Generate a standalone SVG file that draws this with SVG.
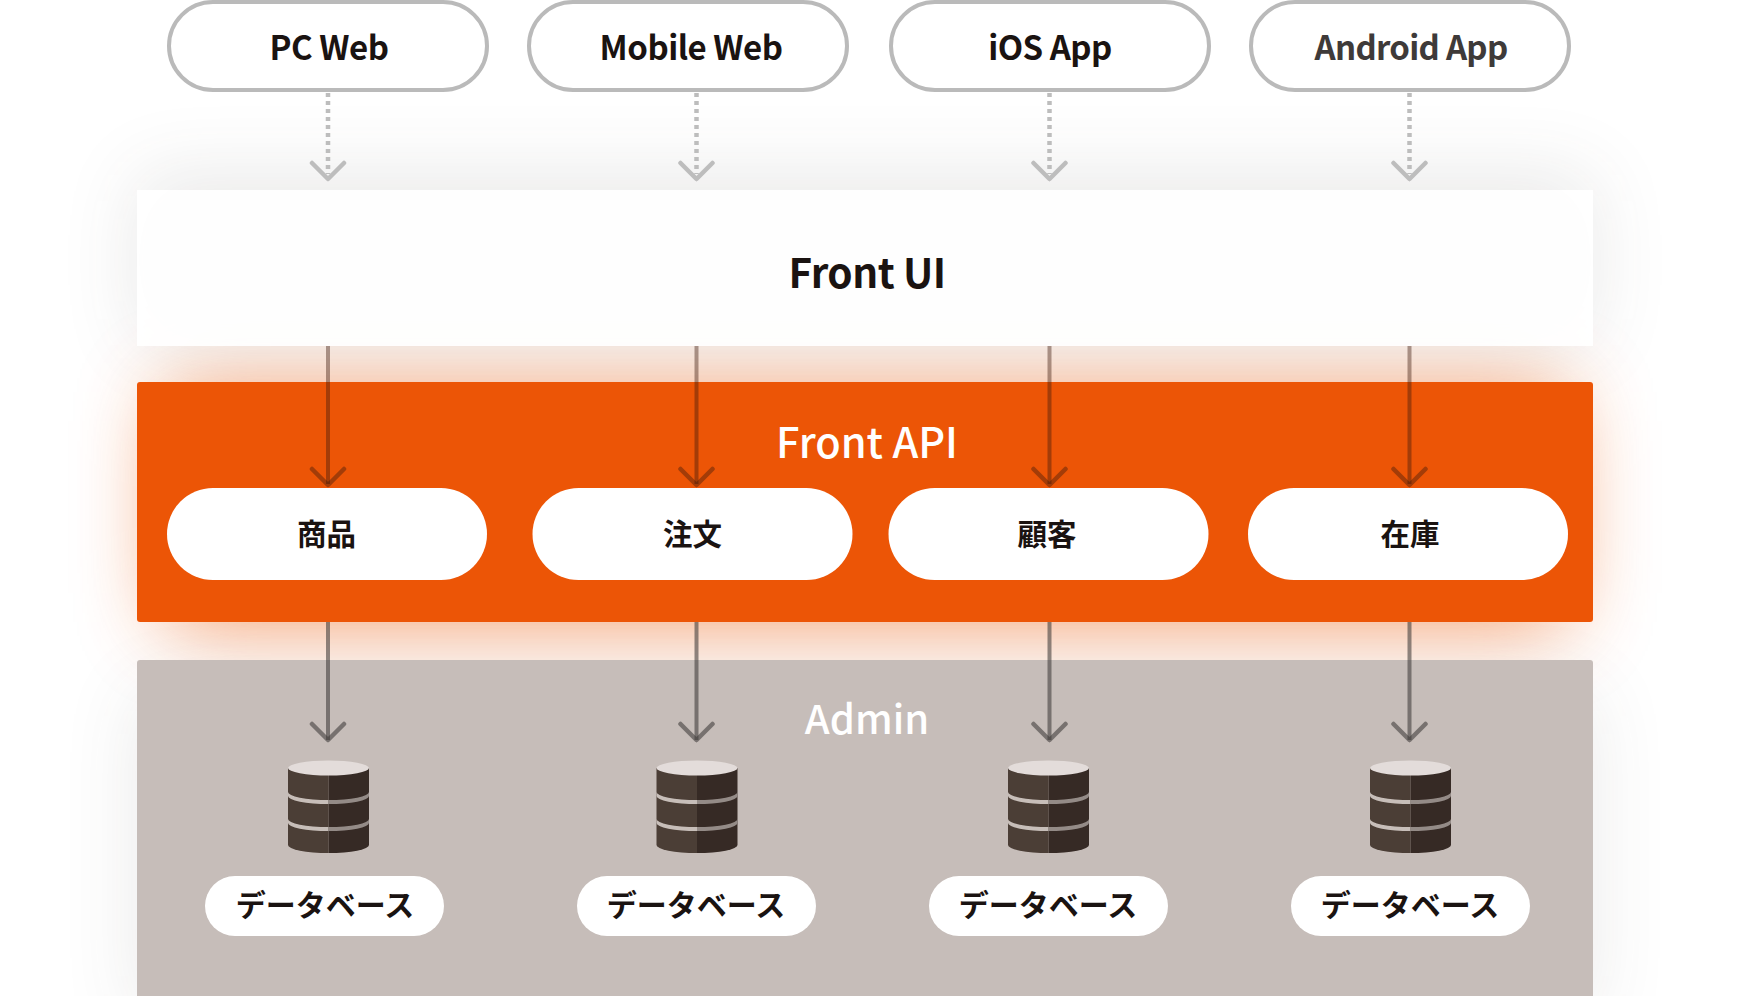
<svg xmlns="http://www.w3.org/2000/svg" xmlns:xlink="http://www.w3.org/1999/xlink" width="1754" height="996" viewBox="0 0 1754 996">
<style>
text{font-family:"Noto Sans CJK JP","Noto Sans",sans-serif;text-anchor:middle;fill:#1a1311;font-weight:500}
.top{fill:#fff;stroke:#bababa;stroke-width:4}
.pill{fill:#fff}
.t30{font-size:33px;font-weight:700;letter-spacing:-.5px}
.t27{font-size:29.500px;font-weight:700}
.tb{font-size:30px;font-weight:700}
.big{font-size:41.500px}
.dot{fill:none;stroke:#bdbdbd;stroke-width:4.500;stroke-dasharray:4 4}
.head{fill:none;stroke:#bdbdbd;stroke-width:4.500;stroke-linecap:round;stroke-linejoin:round}
.ln{fill:none;stroke:#3e1a0c;stroke-opacity:.42;stroke-width:4}
.hd{fill:none;stroke:#3e1a0c;stroke-opacity:.42;stroke-width:4.500;stroke-linecap:round;stroke-linejoin:round}
.ln2{fill:none;stroke:#3e3a39;stroke-opacity:.58;stroke-width:4}
.hd2{fill:none;stroke:#3e3a39;stroke-opacity:.58;stroke-width:4.500;stroke-linecap:round;stroke-linejoin:round}
</style>
<defs>
<filter id="b1" x="-20%" y="-80%" width="140%" height="260%"><feGaussianBlur stdDeviation="40"/></filter>
<filter id="b2" x="-20%" y="-80%" width="140%" height="260%"><feGaussianBlur stdDeviation="44"/></filter>
<g id="db">
<path d="M-40.500 -39V38A40.500 8 0 0 0 0 46V-39Z" fill="#4b3e36"/>
<path d="M0 -39V46A40.500 8 0 0 0 40.500 38V-39Z" fill="#362a25"/>
<path d="M-40.500 -15A40.500 8 0 0 0 0 -7V-3A40.500 8 0 0 1 -40.500 -11Z" fill="#c7beb9"/>
<path d="M0 -7A40.500 8 0 0 0 40.500 -15V-11A40.500 8 0 0 1 0 -3Z" fill="#948b87"/>
<path d="M-40.500 12A40.500 8 0 0 0 0 20V24A40.500 8 0 0 1 -40.500 16Z" fill="#c7beb9"/>
<path d="M0 20A40.500 8 0 0 0 40.500 12V16A40.500 8 0 0 1 0 24Z" fill="#948b87"/>
<ellipse cx="0" cy="-39" rx="40.500" ry="7.500" fill="#e3dcda"/>
</g>
</defs>
<rect width="1754" height="996" fill="#fff"/>
<g id="glows">
<rect x="137" y="175" width="1456" height="170" fill="#3e3a39" opacity=".11" filter="url(#b1)"/>
<rect x="165" y="392" width="1400" height="230" fill="#ec5506" opacity=".62" filter="url(#b2)"/>
<rect x="137" y="690" width="1456" height="330" fill="#3e3a39" opacity=".1" filter="url(#b1)"/>
</g>
<g id="front-ui"><rect x="137" y="190" width="1456" height="156" fill="#fff" fill-opacity=".92"/><text class="big" x="867" y="288" style="font-weight:700;font-size:40.500px;letter-spacing:-.5px">Front UI</text></g>
<g id="front-api"><rect x="137" y="382" width="1456" height="240" rx="3" fill="#ec5506"/><text class="big" x="867" y="458" style="fill:#fff">Front API</text></g>
<g id="admin"><rect x="137" y="660" width="1456" height="340" rx="3" fill="#c6bdb9"/><text class="big" x="867" y="734" style="fill:#fff;font-size:40px">Admin</text></g>
<g id="connectors">
<path class="dot" d="M328 93V174M696.500 93V174M1049.500 93V174M1409.500 93V174"/>
<path class="head" d="M312 163L328 179L344 163M680.500 163L696.500 179L712.500 163M1033.500 163L1049.500 179L1065.500 163M1393.500 163L1409.500 179L1425.500 163"/>
<path class="ln" d="M328 346V484M696.500 346V484M1049.500 346V484M1409.500 346V484"/>
<path class="hd" d="M312 469L328 485L344 469M680.500 469L696.500 485L712.500 469M1033.500 469L1049.500 485L1065.500 469M1393.500 469L1409.500 485L1425.500 469"/>
<path class="ln2" d="M328 622V740M696.500 622V740M1049.500 622V740M1409.500 622V740"/>
<path class="hd2" d="M312 724L328 740L344 724M680.500 724L696.500 740L712.500 724M1033.500 724L1049.500 740L1065.500 724M1393.500 724L1409.500 740L1425.500 724"/>
</g>
<g id="pc-web"><rect class="top" x="169" y="2" width="318" height="88" rx="44"/><text class="t30" x="329" y="60">PC Web</text></g>
<g id="mobile-web"><rect class="top" x="529" y="2" width="318" height="88" rx="44"/><text class="t30" x="691" y="60">Mobile Web</text></g>
<g id="ios-app"><rect class="top" x="891" y="2" width="318" height="88" rx="44"/><text class="t30" x="1050" y="60">iOS App</text></g>
<g id="android-app"><rect class="top" x="1251" y="2" width="318" height="88" rx="44"/><text class="t30" x="1411" y="60" style="fill:#3e3a39;letter-spacing:-.7px">Android App</text></g>
<g id="api-shohin"><rect class="pill" x="167" y="488" width="320" height="92" rx="46"/><text class="t27" x="326.500" y="545">商品</text></g>
<g id="api-chumon"><rect class="pill" x="532.500" y="488" width="320" height="92" rx="46"/><text class="t27" x="692.500" y="545">注文</text></g>
<g id="api-kokyaku"><rect class="pill" x="888.500" y="488" width="320" height="92" rx="46"/><text class="t27" x="1047" y="545">顧客</text></g>
<g id="api-zaiko"><rect class="pill" x="1248" y="488" width="320" height="92" rx="46"/><text class="t27" x="1410" y="545">在庫</text></g>
<g id="db1"><use xlink:href="#db" x="328.500" y="807"/><rect class="pill" x="205" y="876" width="239" height="60" rx="30"/><text class="tb" x="325" y="916">データベース</text></g>
<g id="db2"><use xlink:href="#db" x="697" y="807"/><rect class="pill" x="577" y="876" width="239" height="60" rx="30"/><text class="tb" x="696" y="916">データベース</text></g>
<g id="db3"><use xlink:href="#db" x="1048.500" y="807"/><rect class="pill" x="929" y="876" width="239" height="60" rx="30"/><text class="tb" x="1048" y="916">データベース</text></g>
<g id="db4"><use xlink:href="#db" x="1410.500" y="807"/><rect class="pill" x="1291" y="876" width="239" height="60" rx="30"/><text class="tb" x="1410" y="916">データベース</text></g>
</svg>
